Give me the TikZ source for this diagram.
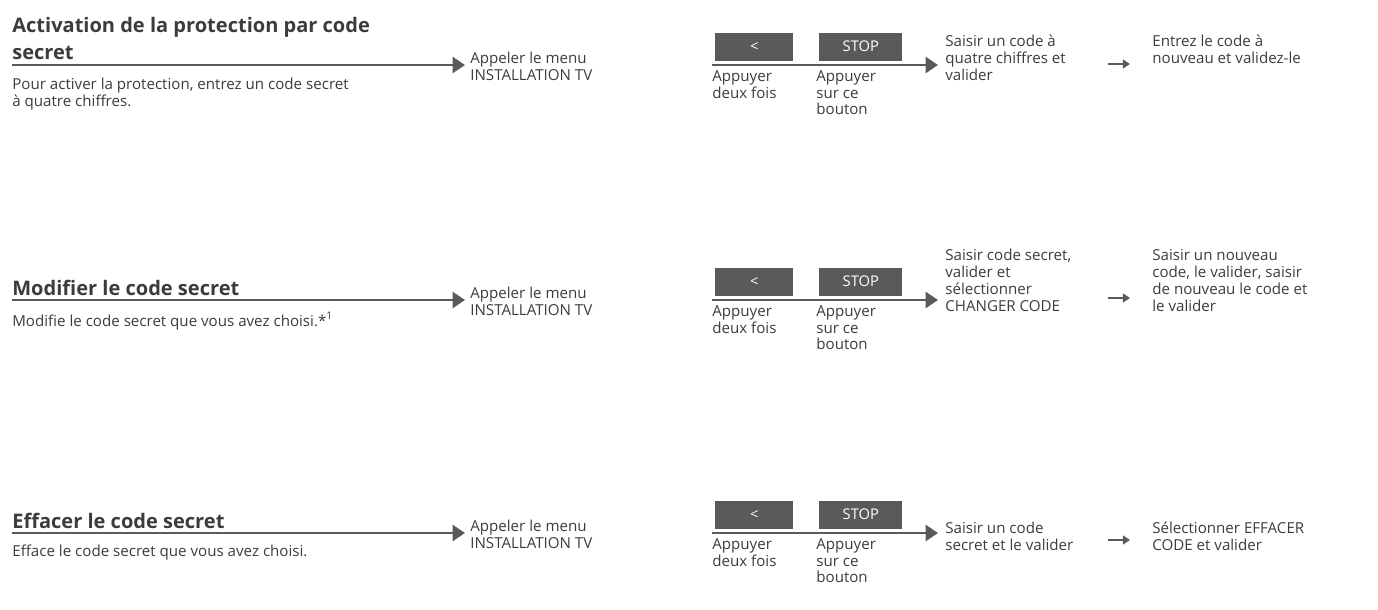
\documentclass[tikz,border=0pt]{standalone}
\usepackage{fontspec}
\setmainfont{Open Sans}
\usetikzlibrary{positioning,arrows.meta}
\definecolor{ink}{RGB}{90,90,92}
\definecolor{textgrey}{RGB}{60,60,62}
\tikzset{
  txt/.style={font=\fontsize{8.6}{9.6}\selectfont,text=textgrey,inner sep=0pt,anchor=north west,align=left},
  ttl/.style={font=\fontsize{11.4}{15.6}\selectfont\bfseries,text=textgrey,inner sep=0pt,anchor=south west,align=left},
  btn/.style={fill=ink,text=white,font=\fontsize{8.4}{9}\selectfont,inner sep=0pt},
  bigarrow/.style={draw=ink,line width=1.6pt,-{Triangle[length=7pt,width=9pt]}},
  smallarrow/.style={draw=ink,line width=1pt,-{Triangle[length=4pt,width=5pt]}},
}
\begin{document}
\begin{tikzpicture}[x=0.02cm,y=-0.02cm]
  \useasboundingbox (0,0) rectangle (1378,609);
  % one row per procedure
  \foreach \r/\y in {a/65,b/300,c/533} {
    \coordinate (\r-l) at (12,\y);
    \coordinate (\r-m) at (465,\y);
    \draw[bigarrow] (\r-l) -- (\r-m);
    \node[txt] (\r-menu) at (470,\y-13) {Appeler le menu\\INSTALLATION TV};
    \node[btn,minimum width=78*0.02cm,minimum height=28*0.02cm,anchor=south west] (\r-back) at (715,\y-4) {\textless};
    \node[btn,minimum width=83*0.02cm,minimum height=28*0.02cm,anchor=south west] (\r-stop) at (819,\y-4) {STOP};
    \coordinate (\r-s) at (712,\y);
    \coordinate (\r-e) at (938,\y);
    \draw[bigarrow] (\r-s) -- (\r-e);
    \node[txt] (\r-p1) at (712,\y+5) {Appuyer\\deux fois};
    \node[txt] (\r-p2) at (816,\y+5) {Appuyer\\sur ce\\bouton};
  }
  % titles and descriptions
  \node[ttl] (a-title) at (12,60) {Activation de la protection par code\\secret};
  \node[txt] (a-desc) at (12,78) {Pour activer la protection, entrez un code secret\\à quatre chiffres.};
  \node[ttl] (b-title) at (12,296) {Modifier le code secret};
  \node[txt] (b-desc) at (12,312) {Modifie le code secret que vous avez choisi.*\textsuperscript{1}};
  \node[ttl] (c-title) at (12,529) {Effacer le code secret};
  \node[txt] (c-desc) at (12,545) {Efface le code secret que vous avez choisi.};
  % steps after the buttons
  \node[txt] (a-code) at (945,35) {Saisir un code à\\quatre chiffres et\\valider};
  \node[txt] (a-next) at (1152,35) {Entrez le code à\\nouveau et validez-le};
  \coordinate (a-f) at (1108,64);
  \coordinate (a-g) at (1130,64);
  \draw[smallarrow] (a-f) -- (a-g);
  \node[txt] (b-code) at (945,249) {Saisir code secret,\\valider et\\sélectionner\\CHANGER CODE};
  \node[txt] (b-next) at (1152,249) {Saisir un nouveau\\code, le valider, saisir\\de nouveau le code et\\le valider};
  \coordinate (b-f) at (1108,298);
  \coordinate (b-g) at (1130,298);
  \draw[smallarrow] (b-f) -- (b-g);
  \node[txt] (c-code) at (945,522) {Saisir un code\\secret et le valider};
  \node[txt] (c-next) at (1152,522) {Sélectionner EFFACER\\CODE et valider};
  \coordinate (c-f) at (1108,540);
  \coordinate (c-g) at (1130,540);
  \draw[smallarrow] (c-f) -- (c-g);
\end{tikzpicture}
\end{document}
